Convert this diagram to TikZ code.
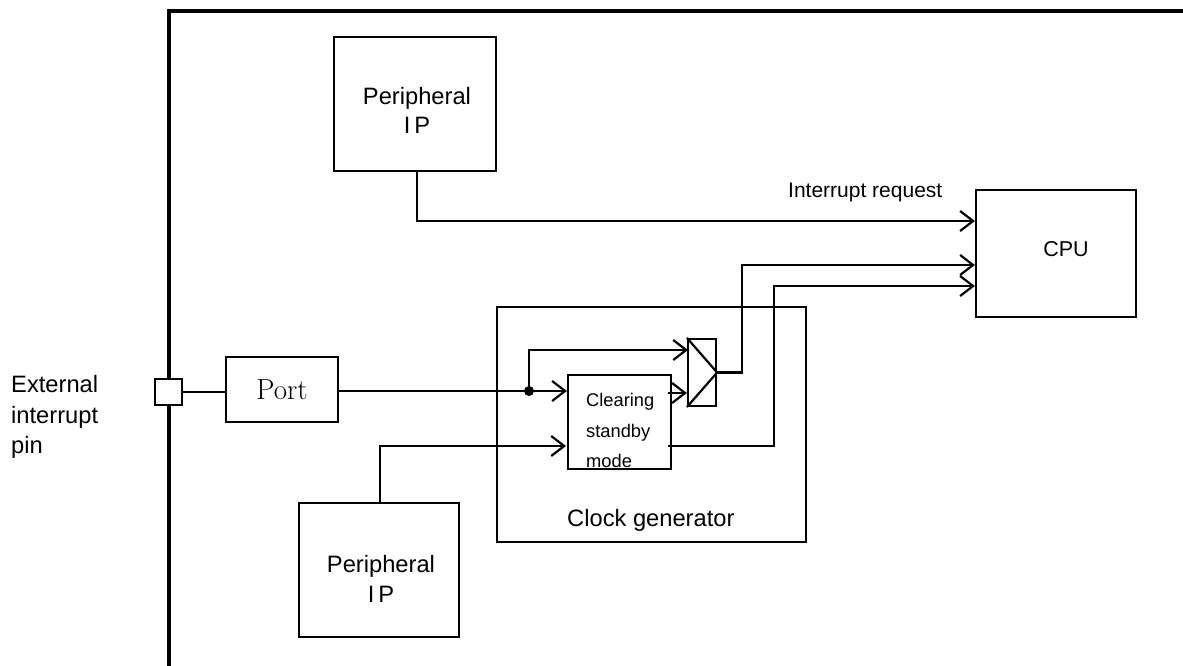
\documentclass[tikz,border=0pt]{standalone}
\usepackage{fontspec}
\newfontfamily\arial{Liberation Sans}
\usetikzlibrary{arrows.meta,calc}
\tikzset{
  box/.style={draw,line width=2.2pt,inner sep=0pt,fill=white},
  wire/.style={line width=2.2pt},
  arr/.style={wire,-{Straight Barb[length=13pt,width=20pt]}},
  lbl/.style={inner sep=0pt,anchor=base west,font=\arial\fontsize{23.7}{28}\selectfont},
}
\begin{document}
\begin{tikzpicture}[x=1pt,y=-1pt]
\useasboundingbox (0,0) rectangle (1183,666);
% chip border
\draw[line width=4.5pt] (1183,11) -- (169,11) -- (169,667);
% boxes
\node[box,minimum width=309pt,minimum height=235pt] (clk) at (651.5,424.5) {};
\node[box,minimum width=27pt,minimum height=26pt] (pin) at (168.5,392) {};
\node[box,minimum width=112pt,minimum height=65pt,font=\fontsize{29}{32}\selectfont] (port) at (282,389.5) {Port};
\node[box,minimum width=103pt,minimum height=94pt] (clr) at (619.5,422) {};
\node[box,minimum width=28pt,minimum height=67pt] (mux) at (702,372.5) {};
\draw[wire] (mux.north west) -- (mux.east) -- (mux.south west);
\node[box,minimum width=160pt,minimum height=127pt] (cpu) at (1056,253.5) {};
\node[box,minimum width=162pt,minimum height=134pt] (pt) at (415,104) {};
\node[box,minimum width=160pt,minimum height=134pt] (pb) at (379,570) {};
% texts
\node[lbl] (ext1) at (11,392) {External};
\node[lbl] (ext2) at (11,423) {interrupt};
\node[lbl] (ext3) at (11,453) {pin};
\node[lbl,anchor=base] (ptt1) at (417,105) {Peripheral};
\node[lbl,anchor=base] (ptt2) at (417,134) {I\kern4pt P};
\node[lbl,anchor=base] (pbt1) at (381,572) {Peripheral};
\node[lbl,anchor=base] (pbt2) at (381,602) {I\kern4pt P};
\node[lbl] (clkt) at (567,526) {Clock generator};
\node[lbl,font=\arial\fontsize{18.3}{22}\selectfont] (clr1) at (586,406) {Clearing};
\node[lbl,font=\arial\fontsize{18.3}{22}\selectfont] (clr2) at (586,437) {standby};
\node[lbl,font=\arial\fontsize{18.3}{22}\selectfont] (clr3) at (586,467) {mode};
\node[lbl,font=\arial\fontsize{21}{25}\selectfont] (irq) at (788,197) {Interrupt request};
\node[lbl,anchor=base,font=\arial\fontsize{21.5}{24}\selectfont] (cput) at (1066,256) {CPU};
% wiring
\draw[wire] (pin.east) -- (pin.east -| port.west);
\coordinate (d) at (529,391);
\draw[wire] (port.east |- d) -- (d);
\draw[arr] (d) -- (d -| clr.west);
\fill (d) circle (5pt);
\coordinate (m1) at (688,350);
\draw[arr] (d) -- (d |- m1) -- (m1);
\coordinate (c1) at (668,393);
\draw[arr] (c1) -- (c1 -| mux.west);
% mux output to CPU
\coordinate (a1) at (742,265);
\draw[arr] (mux.east) -- (mux.east -| a1) -- (a1) -- (a1 -| cpu.west);
% clearing output to CPU
\coordinate (c2) at (668,446);
\coordinate (a2) at (774,286);
\draw[arr] (c2) -- (c2 -| a2) -- (a2) -- (a2 -| cpu.west);
% bottom peripheral to clearing
\coordinate (b1) at (380,446);
\draw[arr] (pb.north -| b1) -- (b1) -- (566,446);
% top peripheral interrupt request
\coordinate (t1) at (417,221);
\draw[arr] (pt.south -| t1) -- (t1) -- (t1 -| cpu.west);
\end{tikzpicture}
\end{document}
